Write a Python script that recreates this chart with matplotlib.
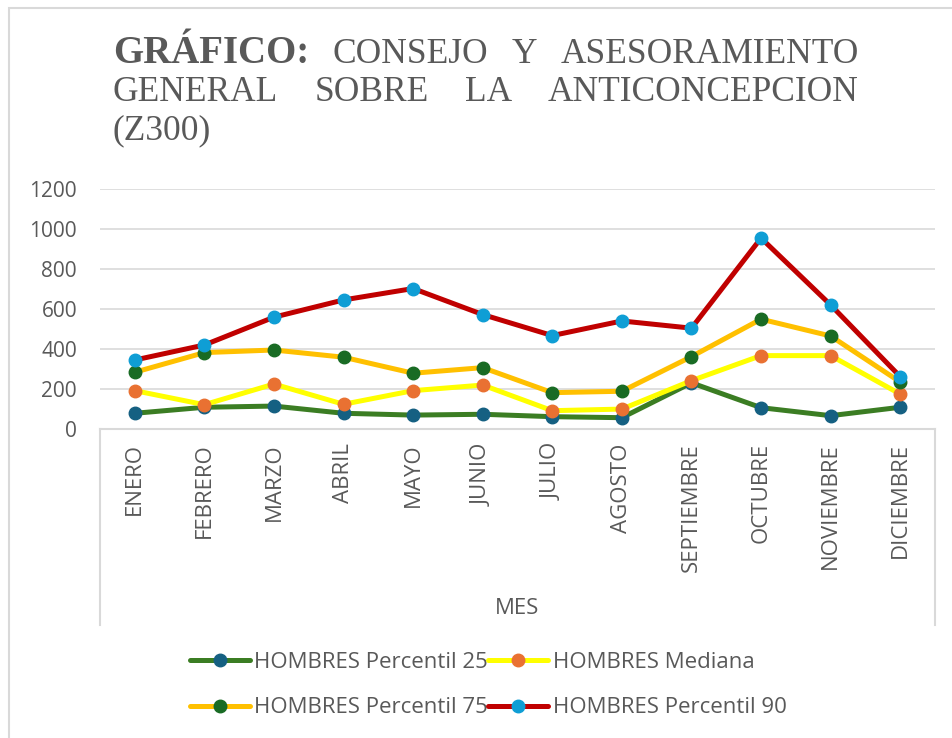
import matplotlib
matplotlib.use("Agg")
import matplotlib.pyplot as plt
from matplotlib.lines import Line2D
from matplotlib.patches import Rectangle

meses = ["ENERO", "FEBRERO", "MARZO", "ABRIL", "MAYO", "JUNIO", "JULIO",
         "AGOSTO", "SEPTIEMBRE", "OCTUBRE", "NOVIEMBRE", "DICIEMBRE"]
p25 = [80, 110, 116, 80, 71, 75, 63, 58, 232, 108, 68, 110]
mediana = [193, 123, 226, 125, 193, 221, 93, 101, 243, 368, 368, 176]
p75 = [285, 383, 396, 360, 280, 308, 183, 190, 363, 550, 466, 236]
p90 = [346, 421, 560, 646, 703, 573, 468, 541, 505, 955, 621, 263]
yticks = [0, 200, 400, 600, 800, 1000, 1200]

series = [
    ("HOMBRES Percentil 25", p25, "#3B7D23", "#156082"),
    ("HOMBRES Mediana", mediana, "#FFFF00", "#E97132"),
    ("HOMBRES Percentil 75", p75, "#FFC000", "#196B24"),
    ("HOMBRES Percentil 90", p90, "#C00000", "#0F9ED5"),
]

W, H = 952, 738
TXT = "#595959"
GRID = "#D9D9D9"
SANS = ["Open Sans", "DejaVu Sans"]

fig = plt.figure(figsize=(W / 100, H / 100), dpi=100)
fig.patch.set_facecolor("white")

# chart border (left and top visible)
fig.add_artist(Rectangle((8.5 / W, -0.1), 1.2, 1 - 7.5 / H + 0.1, transform=fig.transFigure,
                         fill=False, edgecolor=GRID, linewidth=1.5))

ax = fig.add_axes([100 / W, 1 - 429.3 / H, 835 / W, 240.3 / H])
x = list(range(len(meses)))
for name, vals, lc, mc in series:
    ax.plot(x, vals, color=lc, linewidth=3.6, marker="o", markersize=9,
            markerfacecolor=mc, markeredgecolor=mc, label=name, solid_capstyle="round",
            solid_joinstyle="round", zorder=3)

ax.set_xlim(-0.5, len(meses) - 0.5)
ax.set_ylim(0, 1200)
ax.set_yticks(yticks)
ax.set_yticklabels([str(v) for v in yticks])
ax.set_xticks(x)
ax.set_xticklabels(meses, rotation=90, va="top", ha="center")
ax.tick_params(axis="y", length=0, pad=16.5, labelsize=15, labelcolor=TXT)
ax.tick_params(axis="x", length=0, pad=10, labelsize=16, labelcolor=TXT)
for lab in ax.get_xticklabels() + ax.get_yticklabels():
    lab.set_family(SANS)
ax.grid(axis="y", color=GRID, linewidth=1.2, zorder=0)
ax.set_axisbelow(True)
for s in ["top", "left", "right"]:
    ax.spines[s].set_visible(False)
ax.spines["bottom"].set_color(GRID)
ax.spines["bottom"].set_linewidth(1.5)
ax.set_facecolor("none")

# category axis side lines
ext = -(625 - 429.3) / 240.3
for xx in (0, 1):
    ax.plot([xx, xx], [0, ext], transform=ax.transAxes, color=GRID, linewidth=1.5, clip_on=False)

fig.text(517.5 / W, 1 - 609 / H, "MES", ha="center", va="center", fontsize=16,
         color=TXT, family=SANS)

# legend (row-major order as in the reference)
order = [0, 2, 1, 3]
handles = []
labels = []
for i in order:
    name, _, lc, mc = series[i]
    handles.append(Line2D([], [], color=lc, linewidth=3.6, marker="o", markersize=9,
                          markerfacecolor=mc, markeredgecolor=mc, solid_capstyle="round"))
    labels.append(name)
leg = fig.legend(handles, labels, ncol=2, loc="upper left",
                 bbox_to_anchor=(190 / W, 1 - 652 / H), frameon=False,
                 prop={"family": SANS, "size": 16}, handlelength=2.7, handletextpad=0.2,
                 columnspacing=0.0, labelspacing=1.1, borderpad=0, borderaxespad=0)
for t in leg.get_texts():
    t.set_color(TXT)

# justified title
TFAM = ["Liberation Serif", "DejaVu Serif"]
left_px, right_px = 113, 859
lines = [
    ([("GRÁFICO:", "bold", 28), ("CONSEJO", "normal", 25.5), ("Y", "normal", 25.5),
      ("ASESORAMIENTO", "normal", 25.5)], 63, True),
    ([("GENERAL", "normal", 25.5), ("SOBRE", "normal", 25.5), ("LA", "normal", 25.5),
      ("ANTICONCEPCION", "normal", 25.5)], 101, True),
    ([("(Z300)", "normal", 25.5)], 139, False),
]
fig.canvas.draw()
renderer = fig.canvas.get_renderer()
for words, base, justify in lines:
    objs = []
    for w, wt, sz in words:
        t = fig.text(0, 1 - base / H, w, fontsize=sz, fontweight=wt, family=TFAM,
                     color=TXT, ha="left", va="baseline")
        objs.append(t)
    widths = [o.get_window_extent(renderer).width for o in objs]
    if justify and len(objs) > 1:
        gap = (right_px - left_px - sum(widths)) / (len(objs) - 1)
    else:
        gap = 8
    cur = left_px
    for o, wdt in zip(objs, widths):
        o.set_x(cur / W)
        cur += wdt + gap

fig.savefig("out.png", dpi=100, facecolor="white")
